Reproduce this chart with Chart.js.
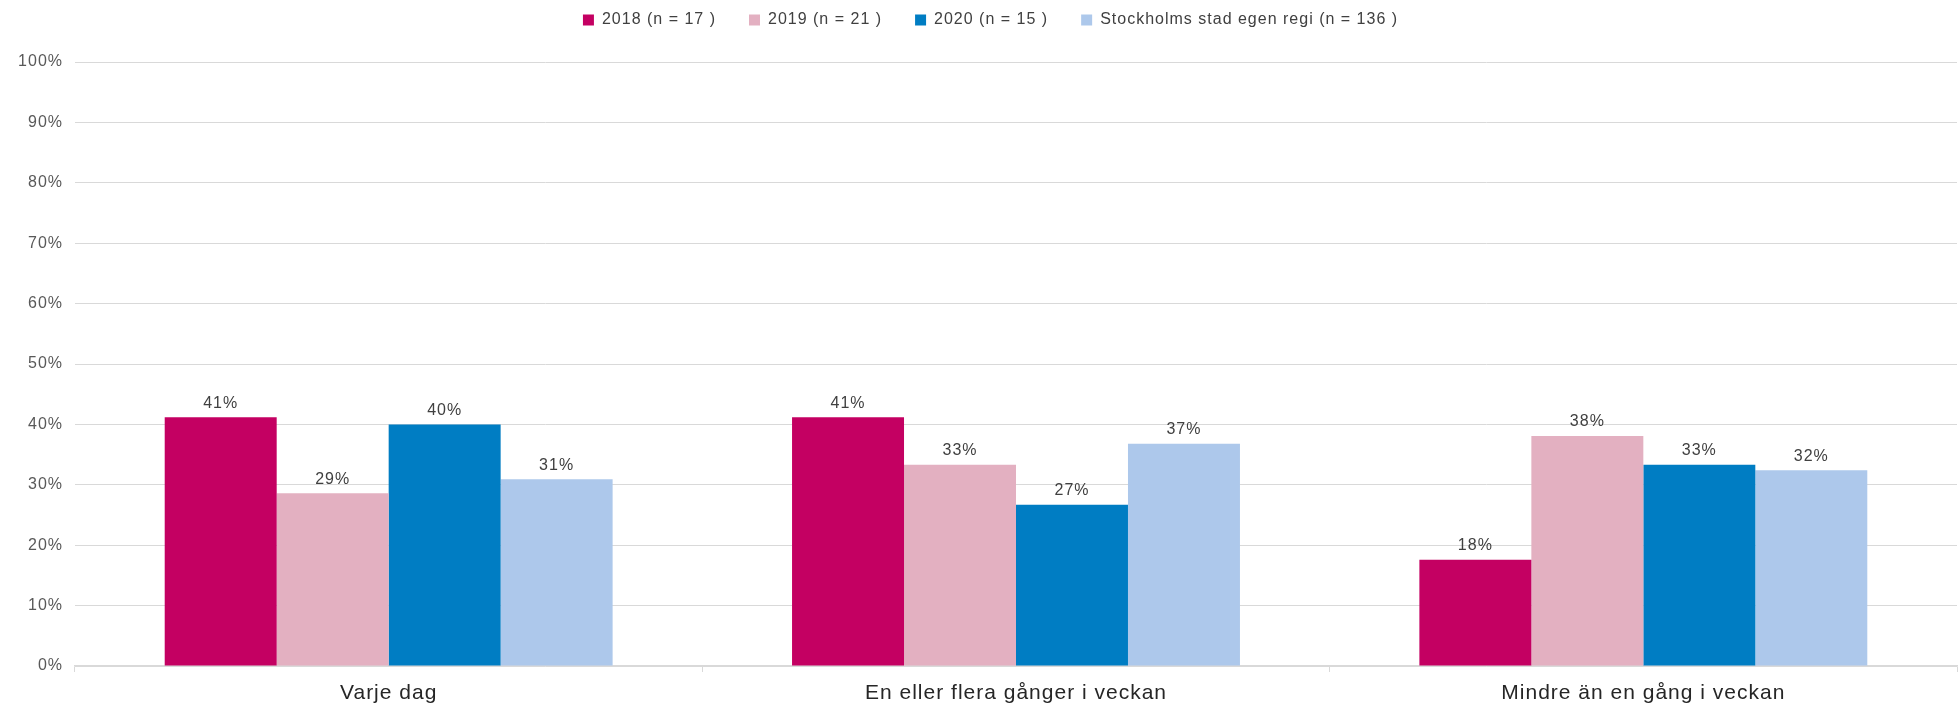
<!DOCTYPE html>
<html>
<head>
<meta charset="utf-8">
<script src="https://cdn.jsdelivr.net/npm/chart.js@4"></script>
<style>
  html, body { margin: 0; padding: 0; background: #fff; }
  #wrap { width: 1959px; height: 706px; position: relative; }
</style>
</head>
<body>
<div id="wrap"><canvas id="barChart"></canvas></div>
<script>
const categories = ['Varje dag', 'En eller flera gånger i veckan', 'Mindre än en gång i veckan'];
const seriesLabels = ['2018 (n = 17 )', '2019 (n = 21 )', '2020 (n = 15 )', 'Stockholms stad egen regi (n = 136 )'];
const values2018 = [41.2, 41.2, 17.6];
const values2019 = [28.6, 33.3, 38.1];
const values2020 = [40.0, 26.7, 33.3];
const valuesStockholm = [30.9, 36.8, 32.4];
const yTicks = [0, 10, 20, 30, 40, 50, 60, 70, 80, 90, 100];

const colors = ['#C40062', '#E3B0C1', '#007DC3', '#ADC8EB'];
const FONT = "'Liberation Sans', Arial, sans-serif";

// canvas resets its state on resize, so keep re-applying the spacing
const spacingPlugin = {
  id: 'spacing',
  beforeUpdate(chart) { chart.ctx.letterSpacing = '1px'; },
  beforeLayout(chart) { chart.ctx.letterSpacing = '1px'; },
  beforeDraw(chart) { chart.ctx.letterSpacing = '1px'; }
};

// pull the legend up towards the top edge (and a bit right), the plot stays where it is
const legendShift = {
  id: 'legendShift',
  afterLayout(chart) {
    const lg = chart.legend;
    if (lg) {
      lg.top -= 24;
      lg.bottom -= 24;
      lg.left += 12;
      lg.right += 12;
    }
  }
};

// value labels above each bar
const barLabels = {
  id: 'barLabels',
  afterDatasetsDraw(chart) {
    const ctx = chart.ctx;
    ctx.save();
    ctx.letterSpacing = '1px';
    ctx.font = '16px ' + FONT;
    ctx.fillStyle = '#404040';
    ctx.textAlign = 'center';
    ctx.textBaseline = 'bottom';
    chart.data.datasets.forEach((ds, i) => {
      chart.getDatasetMeta(i).data.forEach((bar, j) => {
        ctx.fillText(Math.round(ds.data[j]) + '%', bar.x, bar.y - 6);
      });
    });
    ctx.restore();
  }
};

const allSeries = [values2018, values2019, values2020, valuesStockholm];

new Chart(document.getElementById('barChart'), {
  type: 'bar',
  data: {
    labels: categories,
    datasets: allSeries.map((vals, i) => ({
      label: seriesLabels[i],
      data: vals,
      backgroundColor: colors[i],
      borderWidth: 0,
      categoryPercentage: 0.714,
      barPercentage: 1.0
    }))
  },
  options: {
    responsive: true,
    maintainAspectRatio: false,
    animation: false,
    layout: { padding: { top: 3, right: 2, left: 0, bottom: 0 } },
    plugins: {
      legend: {
        position: 'top',
        labels: {
          font: { family: FONT, size: 16 },
          color: '#404040',
          boxWidth: 11,
          boxHeight: 11,
          padding: 33
        }
      },
      tooltip: { enabled: false }
    },
    scales: {
      x: {
        afterFit(scale) { scale.height = 40; },
        grid: {
          drawOnChartArea: false,
          drawTicks: true,
          tickLength: 6,
          color: '#d9d9d9'
        },
        border: { display: true, color: '#d9d9d9', width: 1.5 },
        ticks: {
          font: { family: FONT, size: 21 },
          color: '#262626',
          padding: 9
        }
      },
      y: {
        min: 0,
        max: 100,
        afterFit(scale) { scale.width = 75; },
        afterBuildTicks(scale) { scale.ticks = yTicks.map(v => ({ value: v })); },
        grid: { color: '#d9d9d9', drawTicks: false },
        border: { display: false },
        ticks: {
          font: { family: FONT, size: 16 },
          color: '#595959',
          padding: 12,
          callback: v => v + '%'
        }
      }
    }
  },
  plugins: [spacingPlugin, legendShift, barLabels]
});
</script>
</body>
</html>
